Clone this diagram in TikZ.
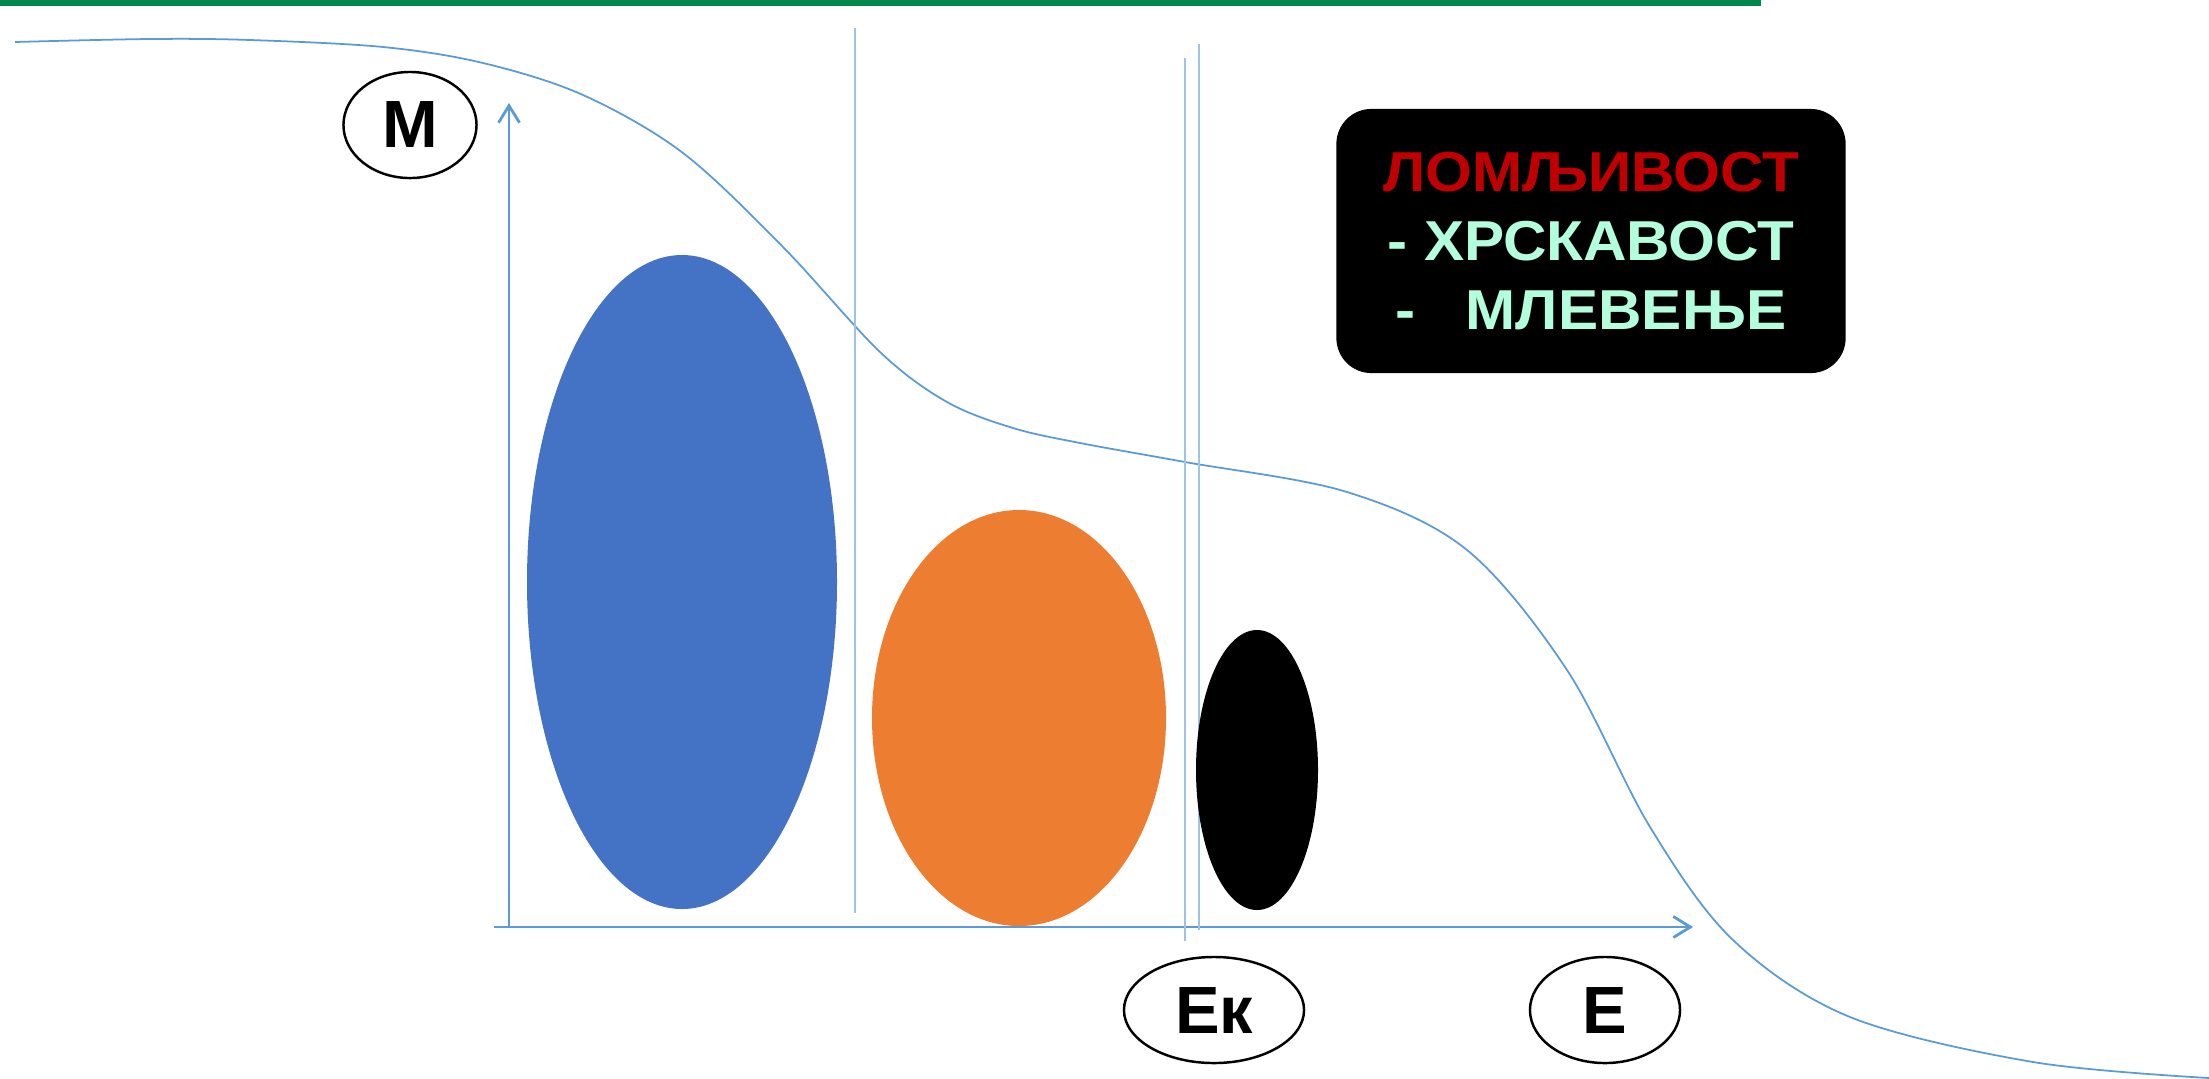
\documentclass[tikz,border=0pt]{standalone}
\usepackage{fontspec}
\setmainfont{Liberation Sans}
\newfontfamily\heavyfont{Liberation Sans Bold}
\newfontfamily\boxfont{Liberation Sans Bold}[FakeStretch=1.07]
\usetikzlibrary{shapes.geometric,arrows.meta}

\definecolor{topgreen}{HTML}{00884B}
\definecolor{curveblue}{HTML}{5B9BD5}
\definecolor{guideblue}{HTML}{9DC3E6}
\definecolor{blobblue}{HTML}{4472C4}
\definecolor{bloborange}{HTML}{ED7D31}
\definecolor{lomred}{HTML}{C00000}
\definecolor{mint}{HTML}{B3FFDD}

\begin{document}
\begin{tikzpicture}[x=0.01cm,y=-0.01cm,
    axis/.style={draw=curveblue,line width=0.8pt,-{Straight Barb[length=0.17cm,width=0.21cm]}},
    guide/.style={draw=guideblue,line width=0.6pt},
    label node/.style={ellipse,draw,line width=0.7pt,inner sep=0pt,font=\fontsize{19}{21}\heavyfont},
    info box/.style={fill=black,rounded corners=0.35cm,minimum width=5.09cm,minimum height=2.64cm,
        align=center,text=mint,font=\fontsize{16}{19.6}\boxfont}]

    \useasboundingbox (0,0) rectangle (2209,1078);
    \fill[topgreen] (0,0) rectangle (1761,6);

    % curve
    \draw[curveblue,line width=0.5pt] plot[smooth,tension=0.55] coordinates {
        (15,42) (150,39) (250,40) (383,47) (483,63) (583,95) (683,153)
        (783,247) (880,352) (947,402) (1013,428) (1080,443) (1185,462)
        (1347,492) (1467,550) (1567,670) (1650,827) (1733,940) (1850,1017)
        (2033,1062) (2209,1078)};

    % axes and guides
    \coordinate (ybot) at (509,928);
    \coordinate (ytop) at (509,103);
    \coordinate (xleft) at (494,927);
    \coordinate (xright) at (1693,927);
    \coordinate (g1a) at (855,28);
    \coordinate (g1b) at (855,913);
    \coordinate (g2a) at (1185,58);
    \coordinate (g2b) at (1185,941);
    \coordinate (g3a) at (1199,44);
    \coordinate (g3b) at (1199,930);

    \path
        (ybot) edge[axis] (ytop)
        (xleft) edge[axis] (xright)
        (g1a) edge[guide] (g1b)
        (g2a) edge[guide] (g2b)
        (g3a) edge[guide] (g3b)
        ;

    % blobs
    \fill[blobblue] (682,582) ellipse [x radius=155, y radius=327];
    \fill[bloborange] (1019,718) ellipse [x radius=147, y radius=208];
    \fill[black] (1257,770) ellipse [x radius=61, y radius=140];

    % labels
    \node[label node,minimum width=1.33cm,minimum height=1.06cm] (M) at (410,125) {М};
    \node[label node,minimum width=1.80cm,minimum height=1.06cm] (Ek) at (1214,1010) {Ек};
    \node[label node,minimum width=1.50cm,minimum height=1.06cm] (E) at (1605,1010) {Е};

    \node[info box] (info) at (1591,241)
        {\textcolor{lomred}{ЛОМЉИВОСТ}\\- ХРСКАВОСТ\\-\hspace{0.5cm}МЛЕВЕЊЕ};
\end{tikzpicture}
\end{document}
